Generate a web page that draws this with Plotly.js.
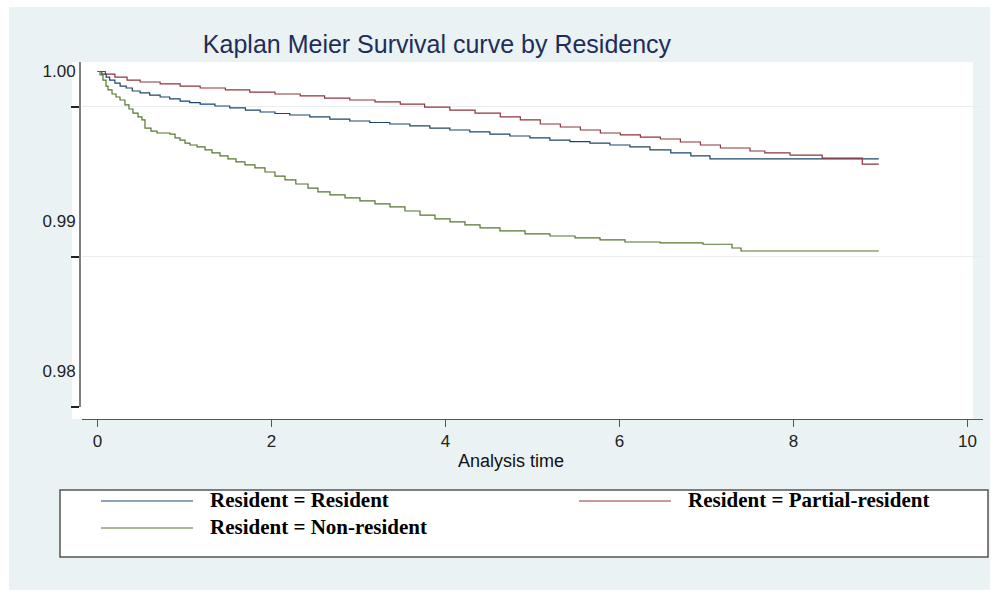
<!DOCTYPE html>
<html><head><meta charset="utf-8">
<script src="https://cdn.plot.ly/plotly-3.0.1.min.js"></script>
<style>html,body{margin:0;padding:0;background:#fff}</style>
</head><body><div id="chart" style="width:998px;height:606px"></div>
<script>
// ---- data (analysis time, survival) ----
const seriesNames = ["Resident = Resident", "Resident = Partial-resident", "Resident = Non-resident"];
const residentT = [0, 0.05, 0.10, 0.14, 0.20, 0.26, 0.33, 0.40, 0.49, 0.60, 0.72, 0.83, 0.95, 1.06, 1.18, 1.35, 1.52, 1.70, 1.87, 2.04, 2.21, 2.44, 2.67, 2.90, 3.13, 3.36, 3.59, 3.82, 4.05, 4.28, 4.51, 4.74, 4.97, 5.20, 5.43, 5.66, 5.89, 6.12, 6.35, 6.59, 6.82, 7.04, 8.98];
const residentS = [1.0, 0.99983, 0.99963, 0.99943, 0.99923, 0.99903, 0.9989, 0.9987, 0.99857, 0.99843, 0.9983, 0.99817, 0.99803, 0.99793, 0.99783, 0.9977, 0.99757, 0.99743, 0.9973, 0.9972, 0.9971, 0.99697, 0.99683, 0.9967, 0.9966, 0.9965, 0.99637, 0.99623, 0.9961, 0.99597, 0.99583, 0.9957, 0.99557, 0.99543, 0.99533, 0.99523, 0.9951, 0.99497, 0.99477, 0.99457, 0.99437, 0.99417, 0.99417];
const partialT = [0, 0.09, 0.20, 0.34, 0.49, 0.72, 0.95, 1.18, 1.47, 1.75, 2.04, 2.33, 2.61, 2.90, 3.19, 3.48, 3.76, 4.05, 4.34, 4.63, 4.86, 5.09, 5.32, 5.55, 5.78, 6.01, 6.24, 6.47, 6.70, 6.93, 7.16, 7.50, 7.67, 7.96, 8.33, 8.79, 8.98];
const partialS = [1.0, 0.99983, 0.99963, 0.99943, 0.9993, 0.99917, 0.99903, 0.9989, 0.99877, 0.99863, 0.9985, 0.99837, 0.99823, 0.9981, 0.99797, 0.99783, 0.99763, 0.99743, 0.99723, 0.99697, 0.99677, 0.9965, 0.9963, 0.9961, 0.9959, 0.99577, 0.99563, 0.9955, 0.9953, 0.9951, 0.9949, 0.9947, 0.99457, 0.99443, 0.99423, 0.99383, 0.99383];
const nonresT = [0, 0.029, 0.063, 0.098, 0.121, 0.167, 0.213, 0.259, 0.316, 0.362, 0.408, 0.466, 0.511, 0.546, 0.615, 0.684, 0.833, 0.891, 0.948, 1.006, 1.063, 1.144, 1.236, 1.316, 1.408, 1.5, 1.592, 1.695, 1.81, 1.925, 2.04, 2.155, 2.28, 2.42, 2.534, 2.672, 2.845, 3.017, 3.19, 3.362, 3.534, 3.707, 3.879, 4.052, 4.224, 4.397, 4.626, 4.914, 5.201, 5.489, 5.776, 6.063, 6.466, 6.96, 7.293, 7.397, 8.98];
const nonresS = [1.0, 0.99977, 0.99943, 0.99903, 0.99877, 0.9985, 0.9983, 0.9981, 0.99777, 0.9975, 0.99723, 0.99697, 0.99677, 0.99623, 0.99603, 0.9959, 0.99583, 0.99557, 0.99543, 0.99523, 0.9951, 0.99497, 0.99477, 0.99457, 0.99437, 0.99417, 0.99397, 0.99377, 0.99357, 0.9933, 0.99303, 0.99277, 0.9925, 0.99223, 0.99197, 0.99177, 0.99157, 0.99137, 0.99117, 0.99097, 0.9907, 0.99043, 0.99017, 0.98997, 0.98977, 0.98957, 0.98937, 0.98917, 0.98903, 0.9889, 0.98877, 0.98863, 0.98857, 0.98848, 0.98823, 0.98803, 0.98803];
const xTicks = [0, 2, 4, 6, 8, 10];
const yTicks = [1.00, 0.99, 0.98];
const yTickText = ["1.00", "0.99", "0.98"];
const xTitle = "Analysis time";
const chartTitle = "Kaplan Meier Survival curve by Residency";
const seriesColors = ["#1a476f", "#90353b", "#55752f"];

// ---- layout helpers (pixel -> paper) ----
const L = 80, R = 983, T = 62, B = 419;
const px = x => (x - L) / (R - L);
const py = y => (B - y) / (B - T);
const tickOffset = 0.002367; // grid/tick marks sit below the labels in the original

const traces = [
  {x: residentT, y: residentS, name: seriesNames[0], color: seriesColors[0]},
  {x: partialT, y: partialS, name: seriesNames[1], color: seriesColors[1]},
  {x: nonresT, y: nonresS, name: seriesNames[2], color: seriesColors[2]}
].map(s => ({x: s.x, y: s.y, name: s.name, type: 'scatter', mode: 'lines',
  line: {shape: 'hv', color: s.color, width: 1.2}, showlegend: false, hoverinfo: 'skip'}));

const legendPos = [[101, 501], [579, 501], [101, 528]];
const shapes = [
  {type: 'rect', xref: 'paper', yref: 'paper', x0: px(9), x1: px(990), y0: py(590), y1: py(7), fillcolor: '#eaf2f3', line: {width: 0}, layer: 'below'},
  {type: 'rect', xref: 'paper', yref: 'paper', x0: px(72), x1: px(973), y0: py(419), y1: py(62), fillcolor: '#ffffff', line: {width: 0}, layer: 'below'},
  {type: 'rect', xref: 'paper', yref: 'paper', x0: px(60), x1: px(988), y0: py(557), y1: py(490), fillcolor: '#ffffff', line: {width: 1.5, color: '#555555'}, layer: 'below'}
];
const annotations = [
  {xref: 'paper', yref: 'paper', x: px(511), y: py(461), xanchor: 'center', yanchor: 'middle', showarrow: false,
    text: xTitle, font: {family: 'Liberation Sans, Arial, sans-serif', size: 18, color: '#111'}}
];
legendPos.forEach((p, i) => {
  shapes.push({type: 'line', xref: 'paper', yref: 'paper', x0: px(p[0]), x1: px(p[0] + 92), y0: py(p[1]), y1: py(p[1]), line: {color: seriesColors[i], width: 1}});
  annotations.push({xref: 'paper', yref: 'paper', x: px(p[0] + 107), y: py(p[1] - 1), xanchor: 'left', yanchor: 'middle', showarrow: false,
    text: seriesNames[i], font: {family: 'Liberation Serif, Times New Roman, serif', size: 21, color: '#000', weight: 'bold'}});
});

const layout = {
  width: 998, height: 606,
  margin: {l: L, r: 998 - R, t: T, b: 606 - B, pad: 0},
  paper_bgcolor: '#ffffff', plot_bgcolor: 'rgba(0,0,0,0)',
  showlegend: false,
  title: {text: chartTitle, xref: 'container', yref: 'container', x: 437 / 998, xanchor: 'center', y: 1 - 44 / 606, yanchor: 'middle',
    font: {family: 'Liberation Sans, Arial, sans-serif', size: 25, color: '#1e2d5a'}},
  xaxis: {domain: [px(82), 1], anchor: 'free', position: 0, range: [-0.178, 10.178],
    tickmode: 'array', tickvals: xTicks, ticktext: xTicks.map(String),
    ticks: 'outside', ticklen: 7, tickwidth: 1, tickcolor: '#555',
    showline: true, linecolor: '#555', linewidth: 1, showgrid: false, zeroline: false,
    tickfont: {family: 'Liberation Sans, Arial, sans-serif', size: 17, color: '#222'}},
  yaxis: {domain: [py(407), 1], anchor: 'free', position: 0, range: [0.97763, 1.000633],
    tickmode: 'array', tickvals: yTicks, ticktext: yTickText, ticks: '', showgrid: false, zeroline: false,
    showline: true, linecolor: '#808080', linewidth: 2,
    tickfont: {family: 'Liberation Sans, Arial, sans-serif', size: 17, color: '#222'},
    minor: {tickmode: 'array', tickvals: yTicks.map(v => v - tickOffset), ticks: 'outside', ticklen: 8, tickwidth: 2, tickcolor: '#222',
      showgrid: true, gridcolor: '#e8edee', gridwidth: 1}},
  shapes: shapes, annotations: annotations
};
Plotly.newPlot('chart', traces, layout, {staticPlot: true});
</script></body></html>
